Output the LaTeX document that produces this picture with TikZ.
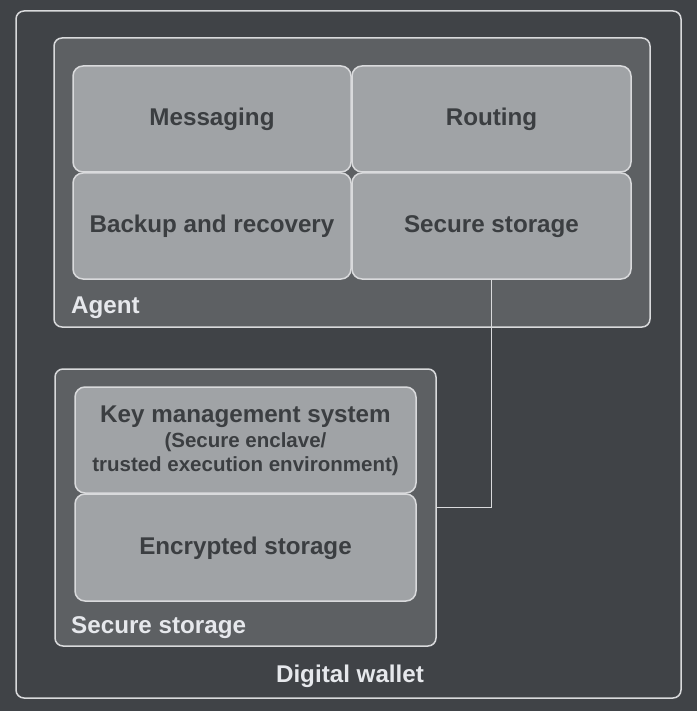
\documentclass[tikz,border=0pt]{standalone}
\usepackage{fontspec}
\setmainfont{Liberation Sans}
\definecolor{bgc}{HTML}{404347}
\definecolor{midc}{HTML}{5D6063}
\definecolor{boxc}{HTML}{A0A3A6}
\definecolor{edgec}{HTML}{D9DADC}
\definecolor{darktext}{HTML}{3B3E41}
\definecolor{lighttext}{HTML}{E6E8EC}
\tikzset{
  bigfont/.style={font=\fontsize{24.2}{28}\selectfont\bfseries},
  smallfont/.style={font=\fontsize{20.5}{24}\selectfont\bfseries},
  container/.style={draw=edgec, line width=1.5pt, fill=midc, rounded corners=8pt,
    inner sep=0pt, outer sep=0pt},
  frame/.style={draw=edgec, line width=1.5pt, rounded corners=8pt, inner sep=0pt, outer sep=0pt},
  module/.style={draw=edgec, line width=1.5pt, fill=boxc, rounded corners=10pt,
    inner sep=0pt, outer sep=0pt, bigfont, text=darktext, text height=17.2pt, text depth=4pt},
  modtext/.style={inner sep=0pt, text=darktext, anchor=base},
  lbl/.style={inner sep=0pt, bigfont, text=lighttext, anchor=base west},
  link/.style={draw=edgec, line width=1.5pt}
}
\begin{document}
\begin{tikzpicture}[x=1pt,y=-1pt]
\fill[bgc] (0,0) rectangle (697,711);
\useasboundingbox (0,0) rectangle (697,711);
% outer frame
\node[frame, minimum width=665pt, minimum height=687pt] (wallet) at (348.5,354.5) {};
% agent container
\node[container, minimum width=596pt, minimum height=289pt] (agent) at (352,182.5) {};
\node[module, minimum width=278pt, minimum height=106pt] (msg) at (212,119) {Messaging};
\node[module, minimum width=279pt, minimum height=106pt] (route) at (491.5,119) {Routing};
\node[module, minimum width=278pt, minimum height=106pt] (backup) at (212,226) {Backup and recovery};
\node[module, minimum width=279pt, minimum height=106pt] (sstore) at (491.5,226) {Secure storage};
\node[lbl] (agentlbl) at (71,313) {Agent};
% secure storage container
\node[container, minimum width=381pt, minimum height=277pt] (secbox) at (245.5,507.5) {};
\node[module, minimum width=341pt, minimum height=106pt] (kms) at (245.5,440) {};
\node[modtext, bigfont] (kmsA) at (245.5,422) {Key management system};
\node[modtext, smallfont] (kmsB) at (245.5,447) {(Secure enclave/};
\node[modtext, smallfont] (kmsC) at (245.5,471) {trusted execution environment)};
\node[module, minimum width=341pt, minimum height=107pt] (enc) at (245.5,547.5) {Encrypted storage};
\node[lbl] (seclbl) at (71,633) {Secure storage};
% wallet label
\node[inner sep=0pt, bigfont, text=lighttext, anchor=base] (walletlbl) at (350,682) {Digital wallet};
% connector
\draw[link] (sstore.south) |- (secbox.east);
\end{tikzpicture}
\end{document}
